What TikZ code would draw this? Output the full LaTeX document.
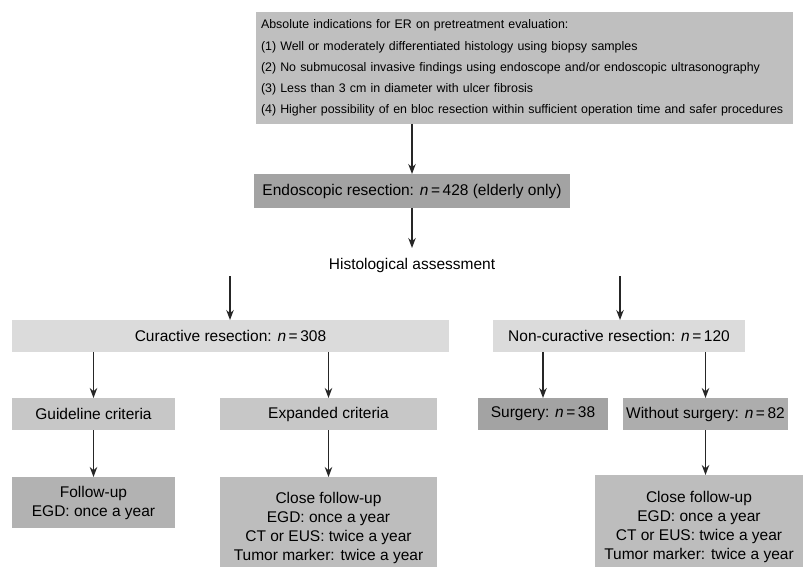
\documentclass[tikz,border=0pt]{standalone}
\usepackage{fontspec}
\setmainfont{Liberation Sans}
\usetikzlibrary{arrows.meta}
\begin{document}
\begin{tikzpicture}[x=1pt,y=-1pt,
  box/.style={rectangle,inner sep=0pt,outer sep=0pt,align=center,font=\fontsize{15.5}{19}\selectfont},
  arr/.style={-{Stealth[length=10pt,width=7.5pt]},line width=1.3pt,black!85}]
\useasboundingbox (0,0) rectangle (804,567);
\definecolor{ctop}{gray}{0.75}
\definecolor{cend}{gray}{0.64}
\definecolor{ccur}{gray}{0.86}
\definecolor{ccrit}{gray}{0.78}
\definecolor{cfol}{gray}{0.70}
\definecolor{csurg}{gray}{0.64}
\definecolor{cwo}{gray}{0.68}
\definecolor{cclose}{gray}{0.74}
% top box
\node[box,fill=ctop,minimum width=537pt,minimum height=112pt,align=left,anchor=north west,text width=527pt,font=\fontsize{12.4}{21.2}\selectfont] (top) at (256,12)
 {Absolute indications for ER on pretreatment evaluation:\\
 (1) Well or moderately differentiated histology using biopsy samples\\
 (2) No submucosal invasive findings using endoscope and/or endoscopic ultrasonography\\
 (3) Less than 3 cm in diameter with ulcer fibrosis\\
 (4) Higher possibility of en bloc resection within sufficient operation time and safer procedures};
\node[box,fill=cend,minimum width=316pt,minimum height=34pt] (endo) at (412,191)
 {Endoscopic resection: \textit{n}\,=\,428 (elderly only)};
\node[box] (hist) at (412,265) {Histological assessment};
\coordinate (hL) at (230,276);
\coordinate (hR) at (620,276);
\node[box,fill=ccur,minimum width=437pt,minimum height=32pt] (cur) at (230.5,336)
 {Curactive resection: \textit{n}\,=\,308};
\node[box,fill=ccur,minimum width=252pt,minimum height=32pt] (ncur) at (619,336)
 {Non-curactive resection: \textit{n}\,=\,120};
\node[box,fill=ccrit,minimum width=163pt,minimum height=32pt] (gl) at (93.5,414)
 {Guideline criteria};
\node[box,fill=ccrit,minimum width=217pt,minimum height=32pt] (ex) at (328.5,414)
 {Expanded criteria};
\node[box,fill=csurg,minimum width=130pt,minimum height=32pt] (surg) at (543,414)
 {Surgery: \textit{n}\,=\,38};
\node[box,fill=cwo,minimum width=165pt,minimum height=32pt] (wo) at (705.5,414)
 {Without surgery: \textit{n}\,=\,82};
\node[box,fill=cfol,minimum width=163pt,minimum height=51pt] (fol) at (93.5,502.5)
 {Follow-up\\EGD: once a year};
\node[box,fill=cclose,minimum width=217pt,minimum height=102pt] (cl1) at (328.5,528)
 {Close follow-up\\EGD: once a year\\CT or EUS: twice a year\\Tumor marker: twice a year};
\node[box,fill=cclose,minimum width=208pt,minimum height=104pt] (cl2) at (699,527)
 {Close follow-up\\EGD: once a year\\CT or EUS: twice a year\\Tumor marker: twice a year};
% connectors
\draw[arr] (top.south -| endo.north) -- (endo.north);
\draw[arr] (endo.south) -- ++(0,40) coordinate (hTop);
\draw[arr] (hL) -- (hL |- cur.north);
\draw[arr] (hR) -- (hR |- ncur.north);
\draw[arr] (cur.south -| gl.north) -- (gl.north);
\draw[arr] (cur.south -| ex.north) -- (ex.north);
\draw[arr] (ncur.south -| surg.north) -- (surg.north);
\draw[arr] (ncur.south -| wo.north) -- (wo.north);
\draw[arr] (gl.south) -- (fol.north);
\draw[arr] (ex.south) -- (cl1.north);
\draw[arr] (wo.south) -- (wo.south |- cl2.north);
\end{tikzpicture}
\end{document}
